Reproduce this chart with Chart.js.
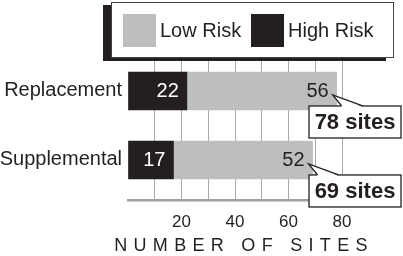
<!DOCTYPE html>
<html>
<head>
<meta charset="utf-8">
<script src="https://cdn.jsdelivr.net/npm/chart.js@4.4.1/dist/chart.umd.min.js"></script>
<style>
  body { margin: 0; background: #fff; }
  #wrap { width: 403px; height: 256px; }
</style>
</head>
<body>
<div id="wrap"><canvas id="sitesChart" width="403" height="256"></canvas></div>
<script>
const categories = ['Replacement', 'Supplemental'];
const highRisk = [22, 17];
const lowRisk = [56, 52];
const xTickLabels = [20, 40, 60, 80];
const axisTitle = 'NUMBER OF SITES';

const DARK = '#231f20';
const GRAY = '#bcbec0';
const FONT = "'Liberation Sans', Arial, sans-serif";

// value labels inside each bar segment
const valueLabels = {
    id: 'valueLabels',
    afterDatasetsDraw(chart) {
        const ctx = chart.ctx;
        ctx.save();
        ctx.font = '20px ' + FONT;
        ctx.textAlign = 'right';
        ctx.textBaseline = 'middle';
        chart.data.datasets.forEach((ds, di) => {
            const meta = chart.getDatasetMeta(di);
            meta.data.forEach((bar, i) => {
                ctx.fillStyle = di === 0 ? '#ffffff' : DARK;
                ctx.fillText(ds.data[i].x, bar.x - 8, bar.y + 1);
            });
        });
        ctx.restore();
    }
};

// "NN sites" callout boxes with a pointer to the bar end
const totalCallouts = {
    id: 'totalCallouts',
    afterDraw(chart) {
        const ctx = chart.ctx;
        const meta = chart.getDatasetMeta(1);
        ctx.save();
        meta.data.forEach((bar, i) => {
            const total = highRisk[i] + lowRisk[i];
            const ax = bar.x - 4, ay = bar.y + 4;
            const bx = 309, by = bar.y + 15, bw = 92, bh = 32;
            ctx.fillStyle = '#fff';
            ctx.strokeStyle = DARK;
            ctx.lineWidth = 1.3;
            ctx.fillRect(bx, by, bw, bh);
            ctx.strokeRect(bx, by, bw, bh);
            // pointer wedge
            ctx.beginPath();
            ctx.moveTo(ax + 9, by + 1);
            ctx.lineTo(ax, ay);
            ctx.lineTo(ax + 30, by + 1);
            ctx.closePath();
            ctx.fill();
            ctx.beginPath();
            ctx.moveTo(ax + 9, by);
            ctx.lineTo(ax, ay);
            ctx.lineTo(ax + 30, by);
            ctx.stroke();
            ctx.fillStyle = DARK;
            ctx.font = 'bold 22px ' + FONT;
            ctx.textAlign = 'center';
            ctx.textBaseline = 'middle';
            ctx.fillText(total + ' sites', bx + bw / 2, by + bh / 2 + 1);
        });
        ctx.restore();
    }
};

// framed legend with a drop shadow at the top
const boxLegend = {
    id: 'boxLegend',
    afterDraw(chart) {
        const ctx = chart.ctx;
        ctx.save();
        ctx.fillStyle = DARK;
        ctx.fillRect(103, 5, 283, 56);
        ctx.fillStyle = '#fff';
        ctx.fillRect(111, 2, 283, 56);
        ctx.strokeStyle = '#444';
        ctx.lineWidth = 1;
        ctx.strokeRect(111.5, 2.5, 282, 55);
        const items = [chart.data.datasets[1], chart.data.datasets[0]];
        const swatchX = [123, 251];
        ctx.font = '20px ' + FONT;
        ctx.textBaseline = 'middle';
        ctx.textAlign = 'left';
        items.forEach((ds, k) => {
            ctx.fillStyle = ds.backgroundColor;
            ctx.fillRect(swatchX[k], 14, 33, 33);
            ctx.fillStyle = DARK;
            ctx.fillText(ds.label, swatchX[k] + 37, 31);
        });
        ctx.restore();
    }
};

// letter-spaced x axis title
const spacedTitle = {
    id: 'spacedTitle',
    afterDraw(chart) {
        const ctx = chart.ctx;
        const area = chart.chartArea;
        ctx.save();
        ctx.font = '18px ' + FONT;
        ctx.fillStyle = DARK;
        ctx.textAlign = 'center';
        ctx.textBaseline = 'middle';
        ctx.letterSpacing = '6.3px';
        ctx.fillText(axisTitle, (area.left + area.right) / 2 + 9, 246);
        ctx.restore();
    }
};

const ctx = document.getElementById('sitesChart').getContext('2d');
const chart = new Chart(ctx, {
    type: 'bar',
    data: {
        datasets: [
            {
                label: 'High Risk',
                data: highRisk.map((v, i) => ({ x: v, y: i })),
                backgroundColor: DARK,
                barThickness: 38
            },
            {
                label: 'Low Risk',
                data: lowRisk.map((v, i) => ({ x: v, y: i })),
                backgroundColor: GRAY,
                barThickness: 38
            }
        ]
    },
    options: {
        indexAxis: 'y',
        responsive: false,
        animation: false,
        layout: { padding: { top: 58, right: 61, left: 0, bottom: 0 } },
        plugins: {
            legend: { display: false },
            tooltip: { enabled: false }
        },
        scales: {
            x: {
                type: 'linear',
                stacked: true,
                min: 0,
                max: 80,
                ticks: {
                    stepSize: 10,
                    color: DARK,
                    font: { family: FONT, size: 17 },
                    padding: 12,
                    maxRotation: 0,
                    autoSkip: false,
                    callback: (v) => xTickLabels.includes(v) ? v : ''
                },
                grid: {
                    drawTicks: false,
                    color: (c) => (c.tick && c.tick.value === 0) ? 'rgba(0,0,0,0)' : '#a7a9ac',
                    lineWidth: 1
                },
                border: { display: true, color: '#a0a0a0', width: 2.5 },
                title: { display: false },
                afterFit: (scale) => { scale.height = 56; }
            },
            y: {
                type: 'linear',
                reverse: true,
                stacked: true,
                offset: false,
                bounds: 'data',
                min: -0.478,
                max: 1.58,
                afterBuildTicks: (scale) => {
                    scale.ticks = categories.map((c, i) => ({ value: i }));
                },
                ticks: {
                    color: DARK,
                    font: { family: FONT, size: 20 },
                    padding: 6,
                    callback: (v) => categories[v]
                },
                grid: { display: false, drawTicks: false },
                border: { display: false },
                afterFit: (scale) => { scale.width = 128; }
            }
        }
    },
    plugins: [valueLabels, totalCallouts, boxLegend, spacedTitle]
});
</script>
</body>
</html>
